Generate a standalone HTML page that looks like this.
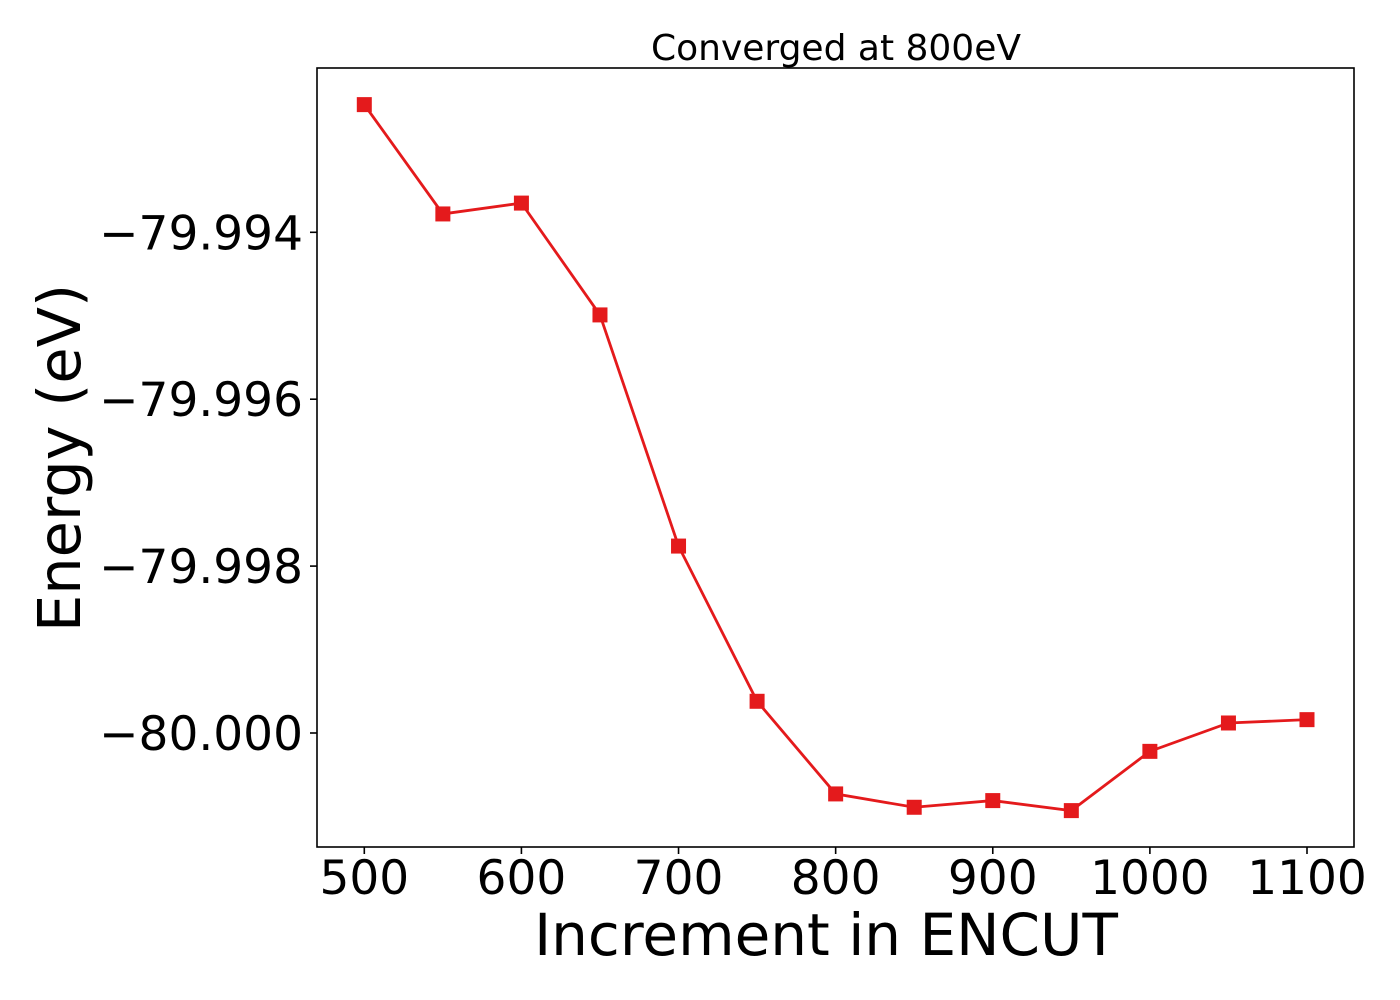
<!DOCTYPE html>
<html><head><meta charset="utf-8"><style>
html,body{margin:0;padding:0;background:#fff;}
svg{display:block;font-family:"DejaVu Sans","Liberation Sans",sans-serif;}
</style></head><body>
<svg id="chart" width="1400" height="1000" viewBox="0 0 1400 1000">
<rect x="0" y="0" width="1400" height="1000" fill="#fff"/>
<text x="836" y="60" font-size="36" text-anchor="middle">Converged at 800eV</text>
<g id="xticks"></g>
<g id="yticks"></g>
<g id="series"></g>
<rect x="317" y="68" width="1037" height="779" fill="none" stroke="#000" stroke-width="1.6"/>
<text x="826" y="955" font-size="58" text-anchor="middle">Increment in ENCUT</text>
<text transform="translate(80,458) rotate(-90)" font-size="59" text-anchor="middle">Energy (eV)</text>
</svg>
<script>
const encut = [500,550,600,650,700,750,800,850,900,950,1000,1050,1100];
const energy = [-79.99247,-79.99378,-79.99365,-79.99499,-79.99776,-79.99962,-80.00073,-80.00089,-80.00081,-80.00093,-80.00022,-79.99988,-79.99984];
const xTicks = [500,600,700,800,900,1000,1100];
const yTicks = [-79.994,-79.996,-79.998,-80.000];
const yTickLabels = ["\u221279.994","\u221279.996","\u221279.998","\u221280.000"];

const NS="http://www.w3.org/2000/svg";
function xs(v){return 364.3+(v-500)*(1307-364.3)/600;}
function ys(v){return 232.3+(-79.994-v)*(733-232.3)/0.006;}
function mk(tag,attrs,parent){const e=document.createElementNS(NS,tag);for(const k in attrs)e.setAttribute(k,attrs[k]);parent.appendChild(e);return e;}

const gx=document.getElementById('xticks');
xTicks.forEach(t=>{
  const l=mk('line',{x1:xs(t),x2:xs(t),y1:847,y2:854,stroke:'#000','stroke-width':1.6},gx);
  
  
  const tx=mk('text',{x:xs(t),y:894,'font-size':47,'text-anchor':'middle'},gx);
  tx.textContent=t;
  
  
});
const gy=document.getElementById('yticks');
yTicks.forEach((t,i)=>{
  const l=mk('line',{x1:310,x2:317,y1:ys(t),y2:ys(t),stroke:'#000','stroke-width':1.6},gy);
  
  
  const tx=mk('text',{x:303,y:ys(t)+17,'font-size':47,'text-anchor':'end'},gy);
  tx.textContent=yTickLabels[i];
  
  
});
const gs=document.getElementById('series');
const pts=encut.map((v,i)=>xs(v)+','+ys(energy[i])).join(' ');
const pl=mk('polyline',{points:pts,fill:'none',stroke:'#e41a1c','stroke-width':2.8},gs);


encut.forEach((v,i)=>{
  const r=mk('rect',{x:xs(v)-7.5,y:ys(energy[i])-7.5,width:15,height:15,fill:'#e41a1c'},gs);
  
  
});
</script>
</body></html>
